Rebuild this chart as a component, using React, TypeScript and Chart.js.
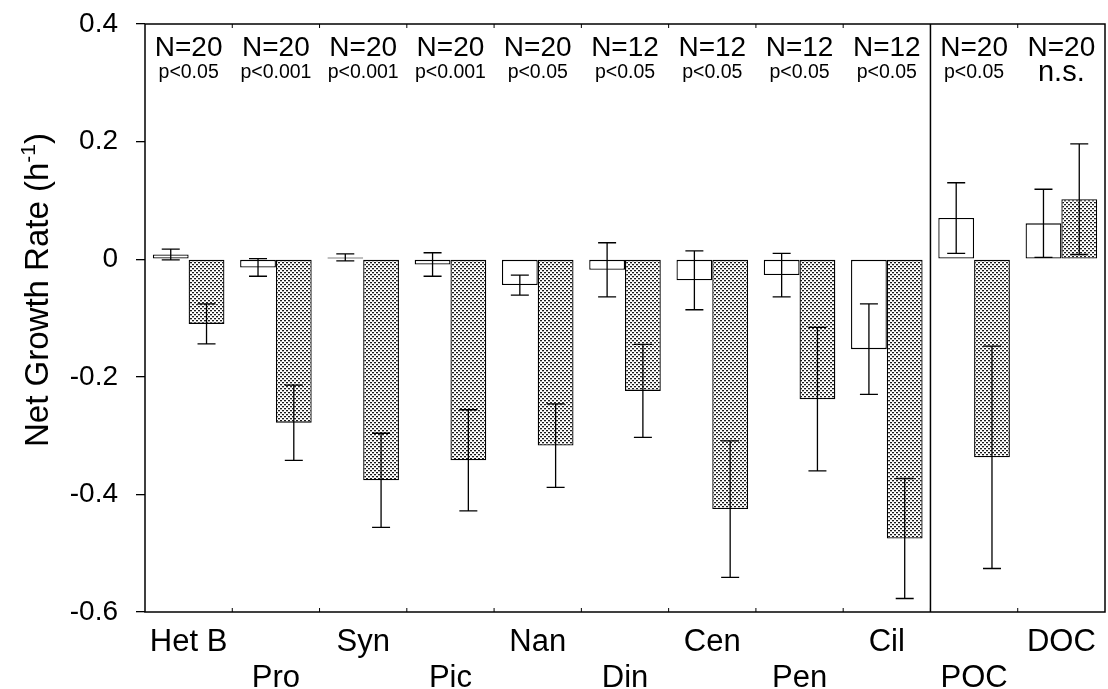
import React, { useEffect, useRef } from "react";
import { Chart, registerables } from "chart.js";

Chart.register(...registerables);

const categories = ["Het B", "Pro", "Syn", "Pic", "Nan", "Din", "Cen", "Pen", "Cil", "POC", "DOC"];
const controlValues = [0.008, -0.014, 0.003, -0.009, -0.044, -0.018, -0.036, -0.027, -0.153, 0.07, 0.061];
const controlErrors = [0.009, 0.015, 0.006, 0.02, 0.017, 0.046, 0.05, 0.037, 0.077, 0.06, 0.058];
const treatmentValues = [-0.11, -0.278, -0.376, -0.342, -0.317, -0.224, -0.425, -0.238, -0.475, -0.337, 0.102];
const treatmentErrors = [0.034, 0.064, 0.08, 0.086, 0.071, 0.079, 0.116, 0.122, 0.102, 0.189, 0.094];
const sampleSizes = ["N=20", "N=20", "N=20", "N=20", "N=20", "N=12", "N=12", "N=12", "N=12", "N=20", "N=20"];
const significance = ["p<0.05", "p<0.001", "p<0.001", "p<0.001", "p<0.05", "p<0.05", "p<0.05", "p<0.05", "p<0.05", "p<0.05", "n.s."];
const yMin = -0.6;
const yMax = 0.4;
const yStep = 0.2;
const dividerAfterIndex = 8;

const FONT = "'Liberation Sans', Arial, Helvetica, sans-serif";

function makePattern(): CanvasPattern | string {
  const c = document.createElement("canvas");
  c.width = 4;
  c.height = 4;
  const g = c.getContext("2d");
  if (!g) return "#bbb";
  g.fillStyle = "#ffffff";
  g.fillRect(0, 0, 4, 4);
  g.fillStyle = "#1a1a1a";
  g.fillRect(0, 0, 2, 1);
  g.fillRect(2, 2, 2, 1);
  g.fillStyle = "#b4b4b4";
  g.fillRect(0, 1, 2, 1);
  g.fillRect(2, 3, 2, 1);
  const p = g.createPattern(c, "repeat");
  return p || "#bbb";
}

const annotatePlugin = {
  id: "annotate",
  afterDatasetsDraw(chart: any) {
    const ctx = chart.ctx as CanvasRenderingContext2D;
    const { left, right, top, bottom } = chart.chartArea;
    const xs = chart.scales.x;
    const ys = chart.scales.y;
    ctx.save();
    ctx.strokeStyle = "#000";
    ctx.fillStyle = "#000";

    const drawErr = (dsIndex: number, vals: number[], errs: number[]) => {
      const meta = chart.getDatasetMeta(dsIndex);
      meta.data.forEach((bar: any, i: number) => {
        const cx = bar.x;
        const y1 = ys.getPixelForValue(vals[i] + errs[i]);
        const y2 = ys.getPixelForValue(vals[i] - errs[i]);
        ctx.lineWidth = 1.3;
        ctx.beginPath();
        ctx.moveTo(cx, y1);
        ctx.lineTo(cx, y2);
        ctx.moveTo(cx - 9, y1);
        ctx.lineTo(cx + 9, y1);
        ctx.moveTo(cx - 9, y2);
        ctx.lineTo(cx + 9, y2);
        ctx.stroke();
      });
    };
    drawErr(0, controlValues, controlErrors);
    drawErr(1, treatmentValues, treatmentErrors);

    // frame
    ctx.lineWidth = 1.5;
    ctx.strokeRect(left, top, right - left, bottom - top);

    // divider
    const dx = (xs.getPixelForValue(dividerAfterIndex) + xs.getPixelForValue(dividerAfterIndex + 1)) / 2;
    ctx.beginPath();
    ctx.moveTo(dx, top);
    ctx.lineTo(dx, bottom);
    ctx.stroke();

    // inward x ticks at category boundaries
    ctx.lineWidth = 1;
    ctx.beginPath();
    for (let i = 0; i < categories.length - 1; i++) {
      const bx = (xs.getPixelForValue(i) + xs.getPixelForValue(i + 1)) / 2;
      ctx.moveTo(bx, bottom);
      ctx.lineTo(bx, bottom - 4);
      ctx.moveTo(bx, top);
      ctx.lineTo(bx, top + 4);
    }
    ctx.stroke();

    // annotations
    ctx.textAlign = "center";
    ctx.textBaseline = "alphabetic";
    categories.forEach((_, i) => {
      const cx = xs.getPixelForValue(i);
      ctx.font = `28px ${FONT}`;
      ctx.fillText(sampleSizes[i], cx, top + 32);
      const sig = significance[i];
      if (sig === "n.s.") {
        ctx.font = `29px ${FONT}`;
        ctx.fillText(sig, cx, top + 57);
      } else {
        ctx.font = `19.5px ${FONT}`;
        ctx.fillText(sig, cx, top + 54);
      }
    });

    // y axis title with superscript
    const main = "Net Growth Rate (h";
    const sup = "-1";
    const close = ")";
    ctx.font = `33px ${FONT}`;
    const w1 = ctx.measureText(main).width;
    const w3 = ctx.measureText(close).width;
    ctx.font = `21px ${FONT}`;
    const w2 = ctx.measureText(sup).width;
    const total = w1 + w2 + w3;
    ctx.translate(48, 290);
    ctx.rotate(-Math.PI / 2);
    ctx.textAlign = "left";
    let px = -total / 2;
    ctx.font = `33px ${FONT}`;
    ctx.fillText(main, px, 0);
    px += w1;
    ctx.font = `21px ${FONT}`;
    ctx.fillText(sup, px, -13);
    px += w2;
    ctx.font = `33px ${FONT}`;
    ctx.fillText(close, px, 0);
    ctx.restore();
  },
};

export default function App() {
  const canvasRef = useRef<HTMLCanvasElement | null>(null);

  useEffect(() => {
    document.body.style.margin = "0";
    const canvas = canvasRef.current;
    if (!canvas) return;
    const pattern = makePattern();
    const labels = categories.map((c, i) => (i % 2 === 0 ? [c] : ["", c]));
    const chart = new Chart(canvas, {
      type: "bar",
      data: {
        labels,
        datasets: [
          {
            label: "Control",
            data: controlValues,
            backgroundColor: "#ffffff",
            borderColor: "#000000",
            borderWidth: 1.3,
            borderSkipped: false,
          },
          {
            label: "Treatment",
            data: treatmentValues,
            backgroundColor: pattern as any,
            borderColor: "#000000",
            borderWidth: 1.3,
            borderSkipped: false,
          },
        ],
      },
      options: {
        responsive: false,
        animation: false,
        events: [],
        layout: { padding: { top: 24, right: 3, left: 0, bottom: 0 } },
        datasets: { bar: { categoryPercentage: 0.82, barPercentage: 1 } },
        plugins: { legend: { display: false }, tooltip: { enabled: false }, title: { display: false } },
        scales: {
          x: {
            offset: true,
            grid: { display: false },
            border: { display: false },
            ticks: {
              color: "#000",
              font: { family: FONT, size: 31, lineHeight: 1.15 },
              padding: 5,
              maxRotation: 0,
              autoSkip: false,
            },
            afterFit: (scale: any) => {
              scale.height = 77;
            },
          },
          y: {
            min: yMin,
            max: yMax,
            grid: { drawOnChartArea: false, tickLength: 9, color: "#000", lineWidth: 1.3 },
            border: { display: false },
            ticks: {
              stepSize: yStep,
              color: "#000",
              font: { family: FONT, size: 28 },
              padding: 18,
              callback: (v: any) => {
                const r = Math.round(Number(v) * 10) / 10;
                return r === 0 ? "0" : String(r);
              },
            },
            afterFit: (scale: any) => {
              scale.width = 145;
              scale.paddingTop = 0;
              scale.paddingBottom = 0;
            },
          },
        },
      },
      plugins: [annotatePlugin],
    });
    return () => chart.destroy();
  }, []);

  return (
    <div style={{ width: 1108, height: 689 }}>
      <canvas ref={canvasRef} width={1108} height={689} style={{ display: "block" }} />
    </div>
  );
}
